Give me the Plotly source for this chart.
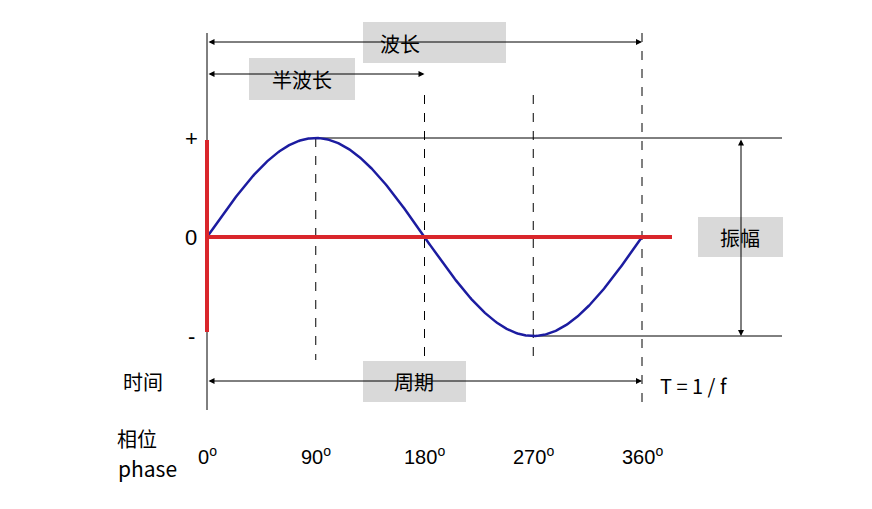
import numpy as np
import plotly.graph_objects as go

phase_ticks = [0, 90, 180, 270, 360]
tick_labels = ["0<sup>o</sup>", "90<sup>o</sup>", "180<sup>o</sup>", "270<sup>o</sup>", "360<sup>o</sup>"]
amp_labels = ["+", "0", "-"]
amp_values = [1, 0, -1]

W, H = 872, 509
OFF = 8
X0, PXD = 207, 435 / 360
Y0, PYU = 237, 99
def X(px): return (px - X0) / PXD
def Y(py): return (Y0 - py) / PYU

deg = np.linspace(0, 360, 361)
fig = go.Figure()
fig.add_trace(go.Scatter(x=deg, y=np.sin(np.radians(deg)), mode="lines",
                         line=dict(color="#1c1ca0", width=2.5), hoverinfo="skip"))
shapes = []
def line(x0, y0, x1, y1, color="black", width=1, dash="solid"):
    shapes.append(dict(type="line", x0=x0, y0=y0, x1=x1, y1=y1, xref="x", yref="y",
                       line=dict(color=color, width=width, dash=dash), layer="below"))
line(0, Y(33), 0, Y(410))
line(360, Y(33), 360, Y(410), dash="dash")
line(90, 1, 90, Y(360), dash="dash")
line(180, Y(95), 180, Y(360), dash="dash")
line(270, Y(95), 270, Y(360), dash="dash")
line(90, 1, X(782), 1)
line(270, -1, X(782), -1)
shapes.append(dict(type="line", x0=0, y0=0, x1=X(672), y1=0, line=dict(color="#d9262b", width=4)))
shapes.append(dict(type="line", x0=0, y0=Y(140), x1=0, y1=Y(332), line=dict(color="#d9262b", width=4)))
def box(px0, py0, px1, py1):
    shapes.append(dict(type="rect", x0=X(px0), x1=X(px1), y0=Y(py0), y1=Y(py1),
                       fillcolor="#d9d9d9", line=dict(width=0), layer="above"))
box(363, 22, 506, 63); box(249, 58, 355, 100); box(363, 361, 466, 402); box(698, 217, 783, 257)

ann = []
def arrow(x0, y0, x1, y1):
    ann.append(dict(x=x1, y=y1, ax=x0, ay=y0, xref="x", yref="y", axref="x", ayref="y",
                    text="", showarrow=True, arrowhead=2, arrowside="end+start",
                    arrowsize=1.2, arrowwidth=1, arrowcolor="black"))
arrow(0, Y(42), 360, Y(42))
arrow(0, Y(74), 180, Y(74))
arrow(0, Y(381), 360, Y(381))
arrow(X(741), 1, X(741), -1)
def text(px, py, t, size=20, xanchor="center"):
    ann.append(dict(x=X(px), y=Y(py), text=t, showarrow=False, xanchor=xanchor,
                    font=dict(size=size, color="black", family="Noto Sans CJK SC, Arial")))
text(400, 43, "波长"); text(302, 79, "半波长"); text(414, 381, "周期"); text(740, 237, "振幅")
text(658, 385, "T = 1 / f", xanchor="left")
for lab, v in zip(amp_labels, amp_values):
    ann.append(dict(x=X(191), y=v, text=lab, showarrow=False,
                    font=dict(size=22, color="black", family="Arial")))
text(143, 381, "时间"); text(137, 438, "相位"); text(147, 468, "phase", size=21)
for p, lab in zip(phase_ticks, tick_labels):
    ann.append(dict(x=p, y=Y(455), text=lab, showarrow=False,
                    font=dict(size=20, color="black", family="Arial")))

# compensate the 8px page offset seen in the render
fig.update_layout(width=W, height=H, margin=dict(l=0, r=0, t=0, b=0),
                  paper_bgcolor="white", plot_bgcolor="white", showlegend=False,
                  shapes=shapes, annotations=ann,
                  xaxis=dict(range=[X(OFF), X(W + OFF)], visible=False, fixedrange=True),
                  yaxis=dict(range=[Y(H + OFF), Y(OFF)], visible=False, fixedrange=True))
fig.write_html("out.html")
